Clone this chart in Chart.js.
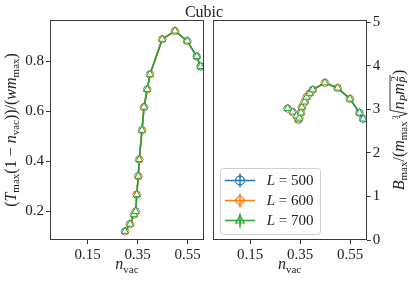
<!DOCTYPE html>
<html><head><meta charset="utf-8">
<script src="https://cdn.jsdelivr.net/npm/chart.js@4.4.0/dist/chart.umd.min.js"></script>
<style>
html,body{margin:0;padding:0;background:#fff;width:415px;height:285px;overflow:hidden;}
#wrap{position:relative;width:415px;height:285px;}
canvas{position:absolute;left:0;top:0;}
</style></head>
<body>
<div id="wrap"><canvas id="c1" width="415" height="285"></canvas><canvas id="c2" width="415" height="285"></canvas></div>
<script>
// ---------------- data ----------------
const sizesL = [500, 600, 700];
const nVac500 = [0.300, 0.320, 0.336, 0.343, 0.347, 0.353, 0.357, 0.368, 0.376, 0.389, 0.400, 0.449, 0.500, 0.549, 0.587, 0.602];
const nVac600 = [0.300, 0.320, 0.336, 0.343, 0.347, 0.353, 0.357, 0.368, 0.376, 0.389, 0.400, 0.449, 0.500, 0.549];
const nVac700 = [0.300, 0.320, 0.336, 0.343, 0.347, 0.353, 0.357, 0.368, 0.376, 0.389, 0.400, 0.449, 0.500, 0.549, 0.587, 0.602];
// left panel: T_max (1 - n_vac) / (w m_max)
const tau500 = [0.120, 0.149, 0.187, 0.200, 0.267, 0.340, 0.407, 0.524, 0.616, 0.687, 0.747, 0.887, 0.920, 0.880, 0.818, 0.778];
const tau600 = [0.120, 0.149, 0.187, 0.200, 0.267, 0.340, 0.407, 0.524, 0.616, 0.687, 0.747, 0.887, 0.920, 0.880];
const tau700 = [0.120, 0.149, 0.187, 0.200, 0.267, 0.340, 0.407, 0.524, 0.616, 0.687, 0.747, 0.887, 0.920, 0.880, 0.818, 0.778];
// right panel: B_max / (m_max cbrt(n_P m_Pbar^2))
const bnd500 = [3.02, 2.94, 2.85, 2.76, 2.80, 2.92, 3.05, 3.17, 3.28, 3.37, 3.45, 3.61, 3.49, 3.24, 2.92, 2.78];
const bnd600 = [3.02, 2.94, 2.85, 2.76, 2.80, 2.92, 3.05, 3.17, 3.28, 3.37, 3.45, 3.61, 3.49, 3.24];
const bnd700 = [3.02, 2.94, 2.85, 2.76, 2.80, 2.92, 3.05, 3.17, 3.28, 3.37, 3.45, 3.61, 3.49, 3.24, 2.92, 2.78];
// ticks
const xTicks = [0.15, 0.35, 0.55];
const yTicksLeft = [0.2, 0.4, 0.6, 0.8];
const yTicksRight = [0, 1, 2, 3, 4, 5];
const titleText = 'Cubic';

// ---------------- styling helpers ----------------
const SERIF = '"Liberation Serif", "DejaVu Serif", serif';
const TXT = '#222222';
const COLORS = ['#1f77b4', '#ff7f0e', '#2ca02c'];
const STYLES = ['circle', 'rectRot', 'triangle'];
const RADII = [3.6, 4.3, 4.2];

function pts(xs, ys){ return xs.map((x, i) => ({x: x, y: ys[i]})); }
function makeSets(ysets, xsets){
  return ysets.map((ys, k) => ({
    label: 'L = ' + sizesL[k],
    data: pts(xsets[k], ys),
    showLine: true,
    borderColor: COLORS[k],
    borderWidth: 1.5,
    pointStyle: STYLES[k],
    pointRadius: RADII[k],
    pointBorderWidth: 1,
    pointBorderColor: COLORS[k],
    pointBackgroundColor: '#ffffff',
    order: 2 - k
  }));
}

function fnt(r){ return (r.it ? 'italic ' : '') + r.s + 'px ' + SERIF; }
function drawRich(ctx, runs, x, y, rot){
  ctx.save();
  ctx.translate(x, y);
  if (rot) ctx.rotate(rot);
  let W = 0;
  for (const r of runs){
    if (r.rad){ r.w = 9; }
    else { ctx.font = fnt(r); r.w = ctx.measureText(r.t).width; }
    W += r.w + (r.gap || 0);
  }
  let cx = -W / 2;
  ctx.fillStyle = TXT; ctx.strokeStyle = TXT;
  ctx.textAlign = 'left'; ctx.textBaseline = 'alphabetic';
  runs.forEach((r, i) => {
    if (r.rad){
      let ow = 0;
      for (let j = i + 1; j <= i + r.span; j++) ow += runs[j].w + (runs[j].gap || 0);
      ctx.beginPath();
      ctx.lineWidth = 0.9;
      ctx.moveTo(cx + 0.5, -4);
      ctx.lineTo(cx + 2.3, -5.3);
      ctx.lineTo(cx + 4.8, 3.2);
      ctx.lineTo(cx + 8.3, -14);
      ctx.lineTo(cx + 9 + ow, -14);
      ctx.stroke();
    } else {
      ctx.font = fnt(r);
      ctx.fillText(r.t, cx, r.dy || 0);
    }
    cx += r.w + (r.gap || 0);
  });
  ctx.restore();
}

const F = 16, S = 11, SD = 3.4;
const xLabelRuns = () => [{t:'n', it:true, s:16}, {t:'vac', s:11, dy:3.5}];
const leftLabelRuns = [
  {t:'(', s:F}, {t:'T', it:true, s:F}, {t:'max', s:S, dy:SD}, {t:'(1 \u2212 ', s:F},
  {t:'n', it:true, s:F}, {t:'vac', s:S, dy:SD}, {t:'))/(', s:F}, {t:'wm', it:true, s:F},
  {t:'max', s:S, dy:SD}, {t:')', s:F}
];
const rightLabelRuns = [
  {t:'B', it:true, s:F}, {t:'max', s:S, dy:SD}, {t:'/(', s:F}, {t:'m', it:true, s:F},
  {t:'max', s:S, dy:SD, gap:2}, {t:'3', s:7.5, dy:-6, gap:-3}, {rad:true, span:5},
  {t:'n', it:true, s:F}, {t:'P', it:true, s:S, dy:SD}, {t:'m', it:true, s:F},
  {t:'P\u0304', it:true, s:S, dy:SD, gap:-5}, {t:'2', s:S, dy:-6, gap:1}, {t:')', s:F}
];

function frame(chart){
  const a = chart.chartArea, ctx = chart.ctx;
  ctx.save();
  ctx.strokeStyle = '#3a3a3a'; ctx.lineWidth = 1;
  ctx.strokeRect(Math.round(a.left) + 0.5, Math.round(a.top) + 0.5, Math.round(a.right - a.left) - 1, Math.round(a.bottom - a.top) - 1);
  ctx.restore();
}

function scaleX(){
  return {
    type: 'linear', min: 0, max: 0.616,
    afterBuildTicks: s => { s.ticks = xTicks.map(v => ({value: v})); },
    afterFit: s => { s.height = 45; },
    ticks: { autoSkip: false, maxRotation: 0, padding: 2, color: TXT, font: {family: SERIF, size: 15},
             callback: v => v.toFixed(2) },
    grid: { drawOnChartArea: false, tickLength: 4, color: '#333', tickWidth: 1 },
    border: { display: false }
  };
}

const common = {
  responsive: false, animation: false, devicePixelRatio: 1,
  plugins: { legend: {display: false}, tooltip: {enabled: false} },
  events: []
};

// ---------------- left panel ----------------
new Chart(document.getElementById('c1'), {
  type: 'scatter',
  data: { datasets: makeSets([tau500, tau600, tau700], [nVac500, nVac600, nVac700]) },
  options: Object.assign({}, common, {
    layout: { padding: {left: 0, right: 211, top: 20, bottom: 0} },
    scales: {
      x: scaleX(),
      y: {
        type: 'linear', min: 0.0854, max: 0.9637,
        afterBuildTicks: s => { s.ticks = yTicksLeft.map(v => ({value: v})); },
        afterFit: s => { s.width = 50; },
        ticks: { padding: 2, color: TXT, font: {family: SERIF, size: 15}, callback: v => v.toFixed(1) },
        grid: { drawOnChartArea: false, tickLength: 4, color: '#333', tickWidth: 1 },
        border: { display: false }
      }
    }
  }),
  plugins: [{
    id: 'deco1',
    beforeDraw(chart){ const c = chart.ctx; c.save(); c.fillStyle = '#fff'; c.fillRect(0, 0, chart.width, chart.height); c.restore(); },
    afterDraw(chart){
      frame(chart);
      const ctx = chart.ctx, a = chart.chartArea;
      ctx.save();
      ctx.fillStyle = TXT; ctx.font = '16px ' + SERIF; ctx.textAlign = 'center'; ctx.textBaseline = 'alphabetic';
      ctx.fillText(titleText, 204, 17);
      ctx.restore();
      drawRich(ctx, xLabelRuns(), (a.left + a.right) / 2, 269, 0);
      drawRich(ctx, leftLabelRuns, 16, (a.top + a.bottom) / 2, -Math.PI / 2);
    }
  }]
});

// ---------------- right panel ----------------
new Chart(document.getElementById('c2'), {
  type: 'scatter',
  data: { datasets: makeSets([bnd500, bnd600, bnd700], [nVac500, nVac600, nVac700]) },
  options: Object.assign({}, common, {
    layout: { padding: {left: 212.5, right: 0, top: 20, bottom: 0} },
    scales: {
      x: scaleX(),
      y: {
        type: 'linear', position: 'right', min: 0, max: 5.05,
        afterBuildTicks: s => { s.ticks = yTicksRight.map(v => ({value: v})); },
        afterFit: s => { s.width = 48.3; },
        ticks: { padding: 2, color: TXT, font: {family: SERIF, size: 15}, callback: v => String(v) },
        grid: { drawOnChartArea: false, tickLength: 4, color: '#333', tickWidth: 1 },
        border: { display: false }
      }
    }
  }),
  plugins: [{
    id: 'deco2',
    afterDraw(chart){
      frame(chart);
      const ctx = chart.ctx, a = chart.chartArea;
      drawRich(ctx, xLabelRuns(), (a.left + a.right) / 2, 269, 0);
      drawRich(ctx, rightLabelRuns, 404, (a.top + a.bottom) / 2, -Math.PI / 2);
      // legend
      ctx.save();
      ctx.beginPath();
      ctx.roundRect(220.5, 168.5, 100, 66, 3);
      ctx.fillStyle = 'rgba(255,255,255,0.8)'; ctx.fill();
      ctx.strokeStyle = '#d0d0d0'; ctx.lineWidth = 1; ctx.stroke();
      const ys = [180.5, 200.5, 220.5];
      chart.data.datasets.forEach((ds, k) => {
        const y = ys[k], cx = 240;
        ctx.strokeStyle = ds.borderColor; ctx.lineWidth = 1.5;
        ctx.beginPath(); ctx.moveTo(225, y); ctx.lineTo(255, y); ctx.stroke();
        ctx.beginPath(); ctx.moveTo(cx, y - 7); ctx.lineTo(cx, y + 7); ctx.stroke();
        ctx.fillStyle = 'rgba(255,255,255,0)'; ctx.strokeStyle = ds.pointBorderColor; ctx.lineWidth = 1.2;
        Chart.helpers.drawPoint(ctx, {pointStyle: ds.pointStyle, radius: ds.pointRadius + 0.8, borderWidth: 1.2, rotation: 0}, cx, y);
        ctx.textBaseline = 'middle'; ctx.textAlign = 'left'; ctx.fillStyle = TXT;
        ctx.font = 'italic 15px ' + SERIF;
        ctx.fillText('L', 266.7, y + 0.5);
        const wL = ctx.measureText('L').width;
        ctx.font = '15px ' + SERIF;
        ctx.fillText(ds.label.slice(1), 266.7 + wL, y + 0.5);
      });
      ctx.restore();
    }
  }]
});
</script>
</body></html>
